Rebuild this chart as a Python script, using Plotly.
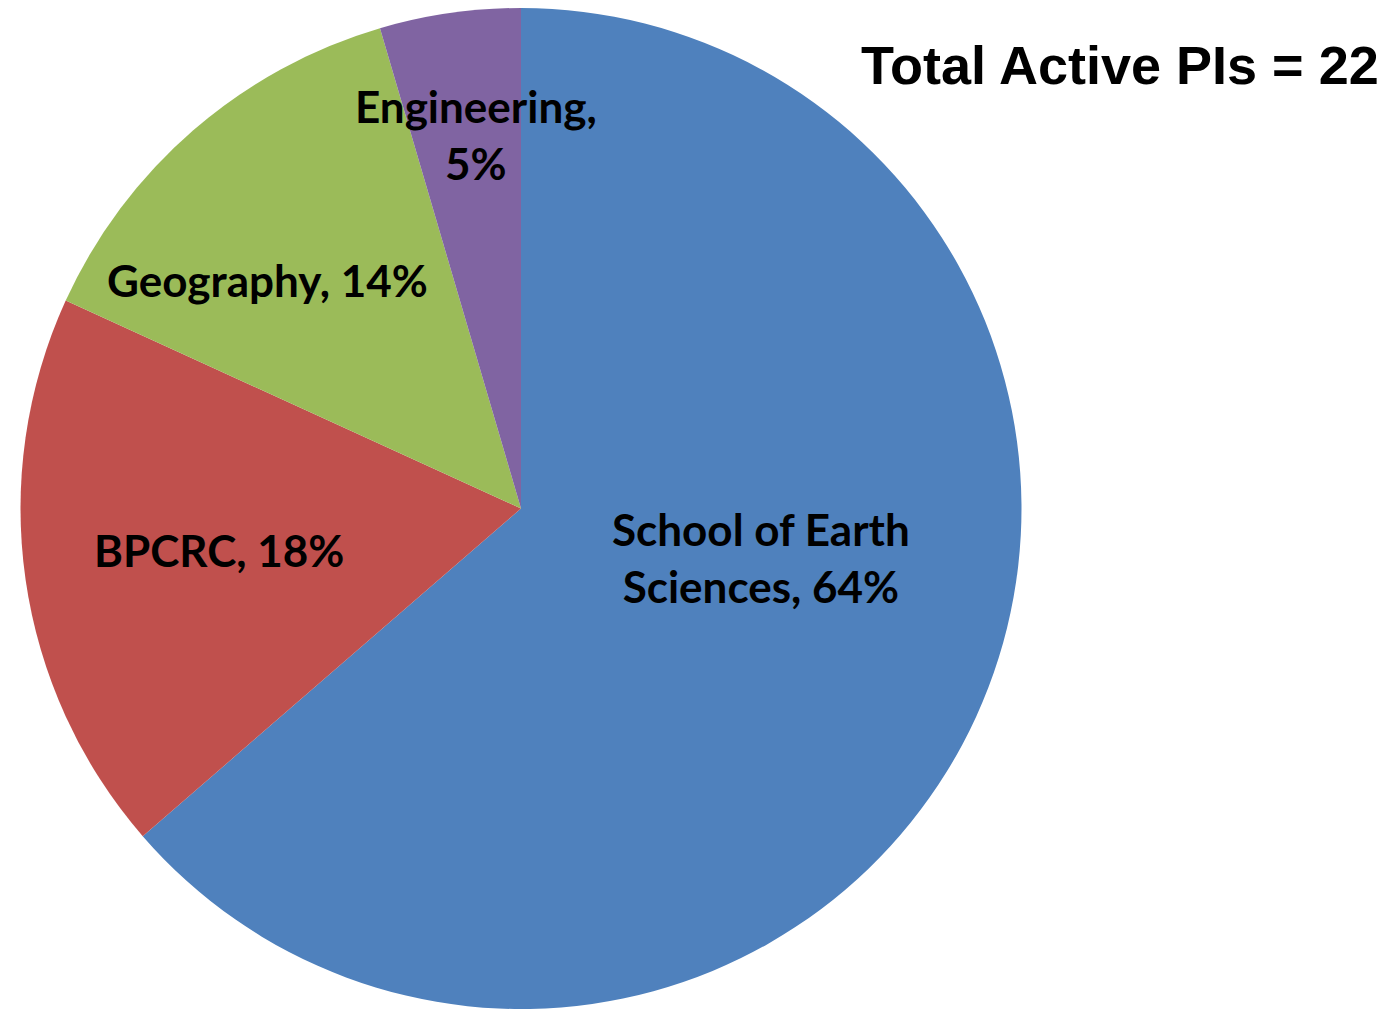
import plotly.graph_objects as go

# PI counts per department (total = 22)
departments = ["School of Earth Sciences", "BPCRC", "Geography", "Engineering"]
pi_counts = [14, 4, 3, 1]
colors = ["#4F81BD", "#C0504D", "#9BBB59", "#8064A2"]
total = sum(pi_counts)
pct = [round(100 * v / total) for v in pi_counts]

W, H = 1386, 1009

fig = go.Figure()
fig.add_trace(go.Pie(labels=departments,
                     values=pi_counts,
                     sort=False,
                     direction='clockwise',
                     rotation=0,
                     textinfo='none',
                     hoverinfo='label+value+percent',
                     marker=dict(colors=colors, line=dict(width=0)),
                     domain=dict(x=[12 / W, 1014 / W], y=[8 / H, 1]),
                     showlegend=False))

# label text comes from the data, placement copies the original layout
label_text = [
    "School of Earth<br>Sciences, %d%%" % pct[0],
    "BPCRC, %d%%" % pct[1],
    "Geography, %d%%" % pct[2],
    "Engineering,<br>%d%%" % pct[3],
]
label_px = [(753, 549), (211, 542), (259, 272), (468, 127)]
for txt, (px, py) in zip(label_text, label_px):
    fig.add_annotation(x=px / W, y=1 - py / H, xref='paper', yref='paper',
                       text="<b>" + txt + "</b>", showarrow=False,
                       xanchor='center', yanchor='middle',
                       font=dict(family='Lato', size=44, color='black'))

fig.add_annotation(x=1373 / W, y=1 - 57 / H, xref='paper', yref='paper',
                   text="<b>Total Active PIs = %d</b>" % total, showarrow=False,
                   xanchor='right', yanchor='middle',
                   font=dict(family='Liberation Sans', size=54, color='black'))

fig.update_layout(width=W, height=H,
                  margin=dict(l=0, r=0, t=0, b=0),
                  paper_bgcolor='white')

fig.write_html("out.html")
